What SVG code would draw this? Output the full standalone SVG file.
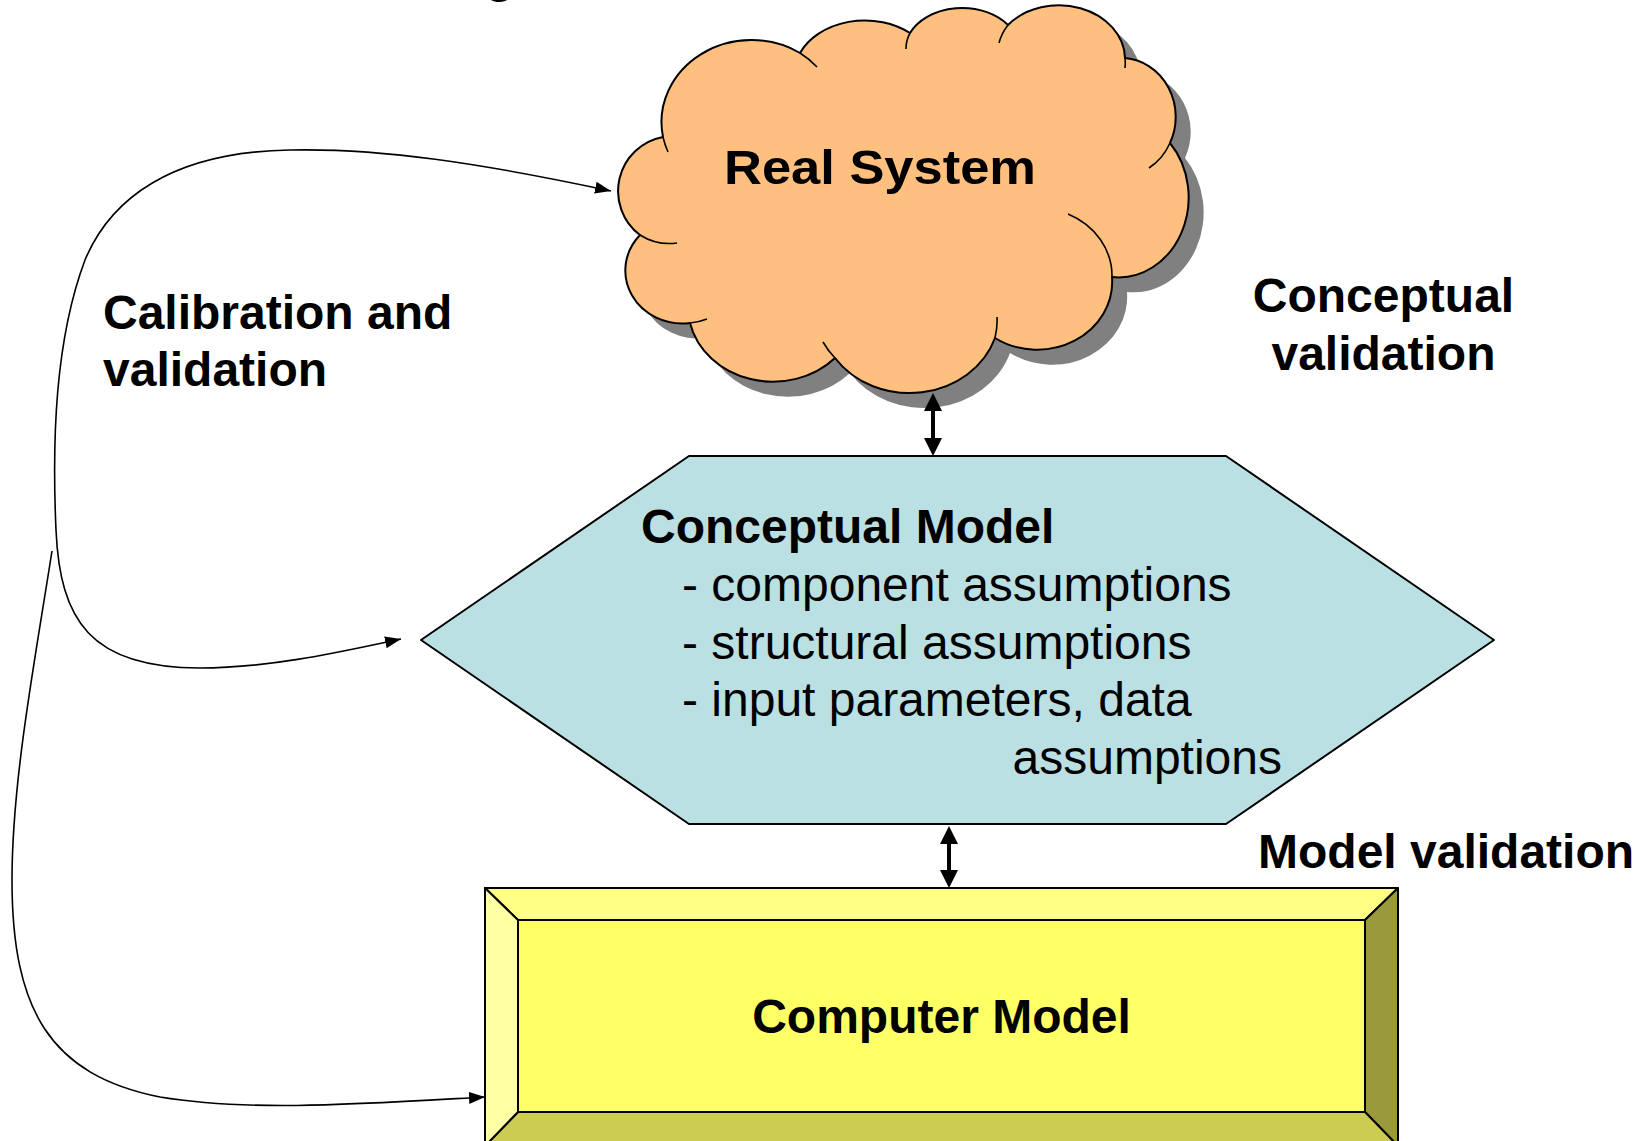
<svg xmlns="http://www.w3.org/2000/svg" width="1640" height="1141" viewBox="0 0 1640 1141">
<style>
.b{font-family:"Liberation Sans",Arial,sans-serif;font-weight:bold;font-size:48px;fill:#000}
.r{font-family:"Liberation Sans",Arial,sans-serif;font-size:48px;fill:#000}
.ol{stroke:#000;stroke-width:2;stroke-linejoin:round}
.thin{fill:none;stroke:#000;stroke-width:1.6}
</style>
<defs>
<marker id="ah" markerWidth="16" markerHeight="12" refX="16" refY="6" orient="auto-start-reverse" markerUnits="userSpaceOnUse">
<path d="M0,0 L16,6 L0,12 z" fill="#000"/>
</marker>
<path id="cloudOutline" d="M663,137 A90,82 0 0 1 800,53 A71,55 0 0 1 910,33 A57,42 0 0 1 1008,25 A66,54 0 0 1 1125,58 A55,59 0 0 1 1170,143 A70,80 0 0 1 1112,277 A75,68 0 0 1 995,338 A90,80 0 0 1 835,358 A85,75 0 0 1 690,323 A57,53 0 0 1 640,235 A55,55 0 0 1 663,137 Z"/>
</defs>
<rect width="1640" height="1141" fill="#fff"/>
<text class="b" x="485" y="-8" font-size="64">g</text>

<g id="real-system">
<use href="#cloudOutline" transform="translate(15,15)" fill="#808080"/>
<use href="#cloudOutline" fill="#FFBF7F" class="ol"/>
<path class="thin" stroke-width="2" d="M663,137 A90,82 0 0 0 668,152 M800,53 A90,82 0 0 1 817,67 M910,33 A57,42 0 0 0 906,49 M1008,25 A66,54 0 0 0 999,43 M1125,58 A66,54 0 0 1 1125,68 M1170,143 A55,59 0 0 1 1149,168 M1112,277 A75,68 0 0 0 1068,214 M995,338 A90,80 0 0 0 997,317 M835,358 A90,80 0 0 1 823,342 M690,323 A57,53 0 0 0 707,319 M640,235 A55,55 0 0 0 677,243"/>
<text class="b" x="724" y="184" font-size="53" textLength="312" lengthAdjust="spacingAndGlyphs">Real System</text>
</g>

<g id="conceptual-model">
<polygon points="421,640 689,456 1226,456 1494,640 1226,824 689,824" fill="#BBE0E3" class="ol"/>
<text class="b" x="641" y="543">Conceptual Model</text>
<text class="r" x="682" y="601">- component assumptions</text>
<text class="r" x="682" y="659">- structural assumptions</text>
<text class="r" x="682" y="716">- input parameters, data</text>
<text class="r" x="1282" y="774" text-anchor="end">assumptions</text>
</g>

<g id="computer-model">
<polygon points="485,888 1398,888 1365,920 518,920" fill="#FFFF85" class="ol"/>
<polygon points="1398,888 1398,1146 1365,1112 1365,920" fill="#9A9A3D" class="ol"/>
<polygon points="1365,1112 1398,1146 485,1146 518,1112" fill="#CCCC52" class="ol"/>
<polygon points="485,888 518,920 518,1112 485,1146" fill="#FFFFA3" class="ol"/>
<rect x="518" y="920" width="847" height="192" fill="#FFFF66" class="ol"/>
<text class="b" x="941.5" y="1033" text-anchor="middle">Computer Model</text>
</g>

<g id="labels">
<text class="b" x="103" y="329">Calibration and</text>
<text class="b" x="103" y="386">validation</text>
<text class="b" x="1383.5" y="312" text-anchor="middle">Conceptual</text>
<text class="b" x="1383.5" y="370" text-anchor="middle">validation</text>
<text class="b" x="1258" y="868">Model validation</text>
</g>

<g id="connectors">
<path class="thin" marker-start="url(#ah)" marker-end="url(#ah)" d="M611,191 C480,163 380,148 290,150 C170,152 110,200 85,260 C55,340 52,440 56,530 C60,620 90,668 200,668 C270,668 340,652 401,639"/>
<path class="thin" marker-end="url(#ah)" d="M52,551 C35,660 12,780 12,880 C12,1010 50,1075 160,1097 C250,1112 360,1104 485,1097"/>
<g fill="#000">
<polygon points="933,393 924,411 942,411"/>
<rect x="931" y="408" width="4" height="33"/>
<polygon points="933,456 924,438 942,438"/>
<polygon points="949,826 940,844 958,844"/>
<rect x="947" y="841" width="4" height="32"/>
<polygon points="949,888 940,870 958,870"/>
</g>
</g>
</svg>
